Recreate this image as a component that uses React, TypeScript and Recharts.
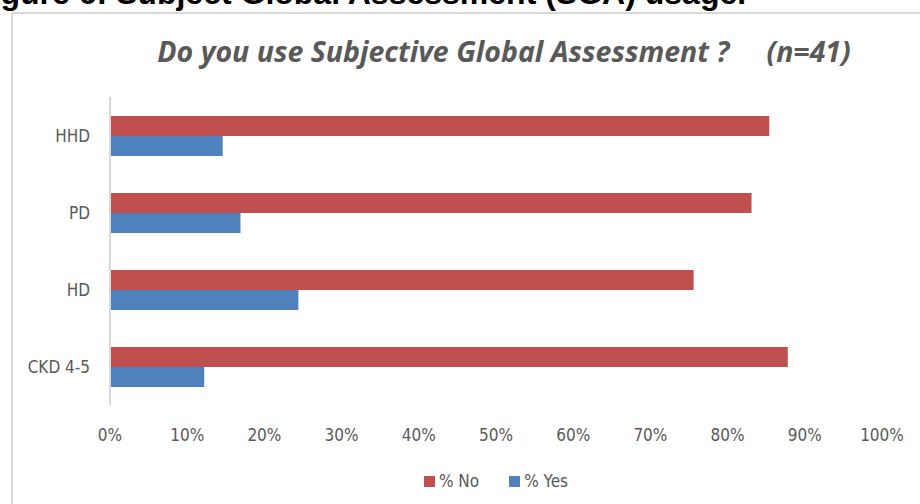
import { Bar, BarChart, Legend, XAxis, YAxis } from 'recharts';

const categories = ['HHD', 'PD', 'HD', 'CKD 4-5'];
const noValues = [85.4, 83.1, 75.6, 87.8];
const yesValues = [14.6, 16.9, 24.4, 12.2];
const xTicks = [0, 10, 20, 30, 40, 50, 60, 70, 80, 90, 100];

const data = categories.map((name, i) => ({
  name,
  no: noValues[i],
  yes: yesValues[i],
}));

const narrowFont = '"DejaVu Sans Condensed", "DejaVu Sans", sans-serif';
const titleFont = '"Open Sans", Lato, sans-serif';

function LegendRow({ payload }: { payload?: any[] }) {
  return (
    <div
      style={{
        display: 'flex',
        justifyContent: 'center',
        gap: 30,
        fontFamily: narrowFont,
        fontSize: 17,
        color: '#595959',
        lineHeight: '22px',
      }}
    >
      {(payload || []).map((p) => (
        <span key={p.value} style={{ display: 'flex', alignItems: 'center', whiteSpace: 'pre' }}>
          <span style={{ width: 11, height: 11, background: p.color, marginRight: 4, display: 'inline-block' }} />
          {p.value}
        </span>
      ))}
    </div>
  );
}

export default function App() {
  return (
    <div style={{ position: 'absolute', left: 0, top: 0, width: 920, height: 504, overflow: 'hidden', background: '#fff' }}>
      <div
        style={{
          position: 'absolute',
          left: -28,
          top: -23,
          whiteSpace: 'nowrap',
          fontFamily: '"Liberation Sans", Arial, sans-serif',
          fontWeight: 'bold',
          fontSize: 32,
          lineHeight: 1,
          color: '#000',
        }}
      >
        Figure 6: Subject Global Assessment (SGA) usage.
      </div>
      <div
        style={{
          position: 'absolute',
          left: 11,
          top: 12,
          width: 940,
          height: 520,
          border: '2px solid #d9d9d9',
        }}
      />
      <div
        style={{
          position: 'absolute',
          left: 0,
          top: 37,
          width: 1008,
          textAlign: 'center',
          whiteSpace: 'pre',
          fontFamily: titleFont,
          fontWeight: 'bold',
          fontStyle: 'italic',
          fontSize: 28.5,
          lineHeight: 1,
          color: '#595959',
        }}
      >
        {'Do you use Subjective Global Assessment ?     (n=41)'}
      </div>
      <div style={{ position: 'absolute', left: 0, top: 0 }}>
        <BarChart
          width={920}
          height={504}
          data={data}
          layout="vertical"
          barGap={0}
          barSize={20}
          margin={{ top: 97, right: 38, left: 20, bottom: 39 }}
        >
          <XAxis
            type="number"
            domain={[0, 100]}
            ticks={xTicks}
            tickFormatter={(v) => `${v}%`}
            axisLine={false}
            tickLine={false}
            tickMargin={18}
            height={30}
            tick={{ fill: '#595959', fontSize: 17, fontFamily: narrowFont }}
            interval={0}
          />
          <YAxis
            type="category"
            dataKey="name"
            width={90}
            axisLine={{ stroke: '#d9d9d9', strokeWidth: 2 }}
            tickLine={false}
            tickMargin={14}
            tick={{ fill: '#595959', fontSize: 17, fontFamily: narrowFont }}
          />
          <Legend
            height={30}
            content={<LegendRow />}
            wrapperStyle={{ top: 470, bottom: 'auto', left: 110, width: 772 }}
          />
          <Bar dataKey="no" name="% No" fill="#c0504d" isAnimationActive={false} />
          <Bar dataKey="yes" name="% Yes" fill="#4f81bd" isAnimationActive={false} />
        </BarChart>
      </div>
    </div>
  );
}
